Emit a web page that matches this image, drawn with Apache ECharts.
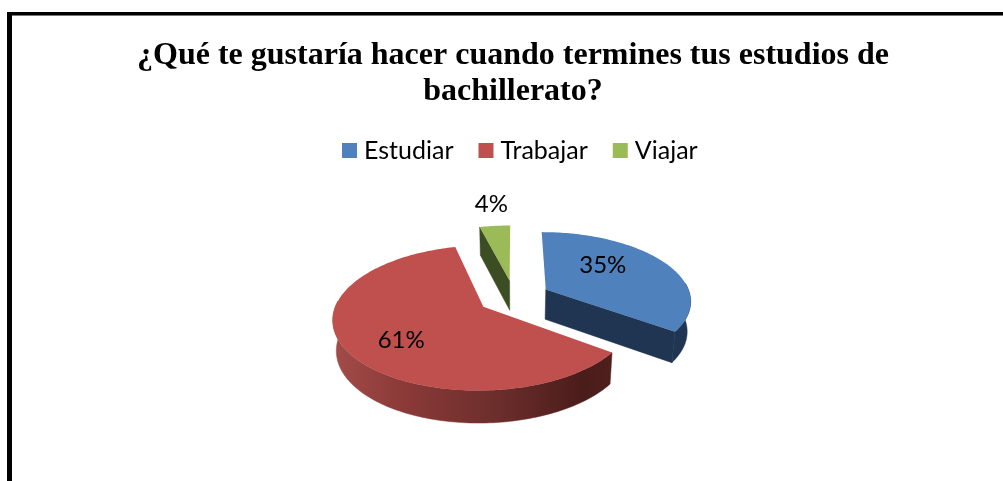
<!DOCTYPE html>
<html>
<head>
<meta charset="utf-8">
<style>html,body{margin:0;padding:0;background:#fff}#c{width:1003px;height:481px}</style>
<script src="https://cdn.jsdelivr.net/npm/echarts@6/dist/echarts.min.js"></script>
</head>
<body>
<div id="c"></div>
<script>
const categories = ['Estudiar', 'Trabajar', 'Viajar'];
const percentages = [35, 61, 4];
const titleLines = ['¿Qué te gustaría hacer cuando termines tus estudios de', 'bachillerato?'];

const topColors = ['#4F81BD', '#C0504D', '#9BBB59'];
const labelFont = 'Lato, "Noto Sans", sans-serif';
// Perspective camera of the 3D pie
const cam = { cx: 514, cy: 297, a: 145, b: 68, k: 0.15, explode: 0.25, shrink: 0.98 };
const labelRadius = [0.6, 0.6, 1.4];
const labelNudge = [[-15, -7], [-3, 8], [1.5, -3.6]];

const sideColors = [
  '#1F3552',
  new echarts.graphic.LinearGradient(333, 0, 612, 0, [
    { offset: 0, color: '#A34C49' }, { offset: 0.25, color: '#8B3A38' },
    { offset: 0.6, color: '#6B2D2B' }, { offset: 0.9, color: '#4A1C1A' }, { offset: 1, color: '#4F1F1D' }
  ], true),
  '#3D4D23'
];

const total = percentages.reduce((s, v) => s + v, 0);

function project(X, V) {
  const s = 1 / (1 - cam.k * V);
  return { x: cam.cx + cam.a * X * s, y: cam.cy + cam.b * V * s, s };
}
function toTop(p) { return [p.x, p.y]; }
function toBottom(p) {
  return [cam.cx + (p.x - cam.cx) * cam.shrink, p.y + 18 + 12 * p.s];
}

function renderSlice(params, api) {
  const i = params.seriesIndex;
  const before = percentages.slice(0, i).reduce((s, v) => s + v, 0);
  const t0 = before / total * 2 * Math.PI;
  const t1 = t0 + api.value(0) / total * 2 * Math.PI;
  const mid = (t0 + t1) / 2;
  const ox = Math.sin(mid) * cam.explode, ov = -Math.cos(mid) * cam.explode;
  const apex = project(ox, ov);
  const rim = [], front = [];
  const n = Math.max(4, Math.ceil((t1 - t0) / 0.02));
  for (let j = 0; j <= n; j++) {
    const t = t0 + (t1 - t0) * j / n;
    const p = project(ox + Math.sin(t), ov - Math.cos(t));
    rim.push(p);
    if (-Math.cos(t) > -0.1) front.push(p);
  }
  const side = { fill: sideColors[i], stroke: sideColors[i], lineWidth: 0.5 };
  const children = [];
  if (Math.sin(t0) < -1e-6) {
    children.push({ type: 'polygon', shape: { points: [toTop(apex), toTop(rim[0]), toBottom(rim[0]), toBottom(apex)] }, style: side, silent: true });
  }
  if (Math.sin(t1) > 1e-6) {
    children.push({ type: 'polygon', shape: { points: [toTop(apex), toTop(rim[n]), toBottom(rim[n]), toBottom(apex)] }, style: side, silent: true });
  }
  if (front.length > 1) {
    children.push({ type: 'polygon', shape: { points: front.map(toTop).concat(front.slice().reverse().map(toBottom)) }, style: side, silent: true });
  }
  children.push({ type: 'polygon', shape: { points: [toTop(apex)].concat(rim.map(toTop)) }, style: { fill: topColors[i] }, silent: true });
  const lp = project(ox + Math.sin(mid) * labelRadius[i], ov - Math.cos(mid) * labelRadius[i]);
  children.push({
    type: 'text', silent: true,
    x: lp.x + labelNudge[i][0], y: lp.y + labelNudge[i][1],
    style: { text: api.value(0) + '%', fill: '#000', font: '24px ' + labelFont, textAlign: 'center', textVerticalAlign: 'middle' }
  });
  return { type: 'group', children };
}

const chart = echarts.init(document.getElementById('c'), null, { renderer: 'canvas' });
chart.setOption({
  animation: false,
  backgroundColor: '#fff',
  title: {
    text: titleLines.join('\n'),
    left: 508, top: 33, textAlign: 'center',
    textStyle: { fontFamily: '"Liberation Serif", serif', fontWeight: 'bold', fontSize: 32, lineHeight: 36, color: '#000' }
  },
  legend: {
    data: categories, left: 337, top: 133, icon: 'rect',
    itemWidth: 15, itemHeight: 15, itemGap: 25,
    textStyle: { fontFamily: labelFont, fontSize: 25, color: '#000', padding: [0, 0, 0, 2] },
    selectedMode: false
  },
  graphic: [
    { type: 'rect', shape: { x: 7, y: 12, width: 996, height: 3 }, style: { fill: '#000' }, silent: true },
    { type: 'rect', shape: { x: 7, y: 15, width: 996, height: 1 }, style: { fill: '#777' }, silent: true },
    { type: 'rect', shape: { x: 7, y: 12, width: 5, height: 469 }, style: { fill: '#000' }, silent: true }
  ],
  series: categories.map((name, i) => ({
    type: 'custom', name, coordinateSystem: 'none',
    itemStyle: { color: topColors[i] },
    data: [[percentages[i]]],
    renderItem: renderSlice,
    silent: true
  }))
});
</script>
</body>
</html>
